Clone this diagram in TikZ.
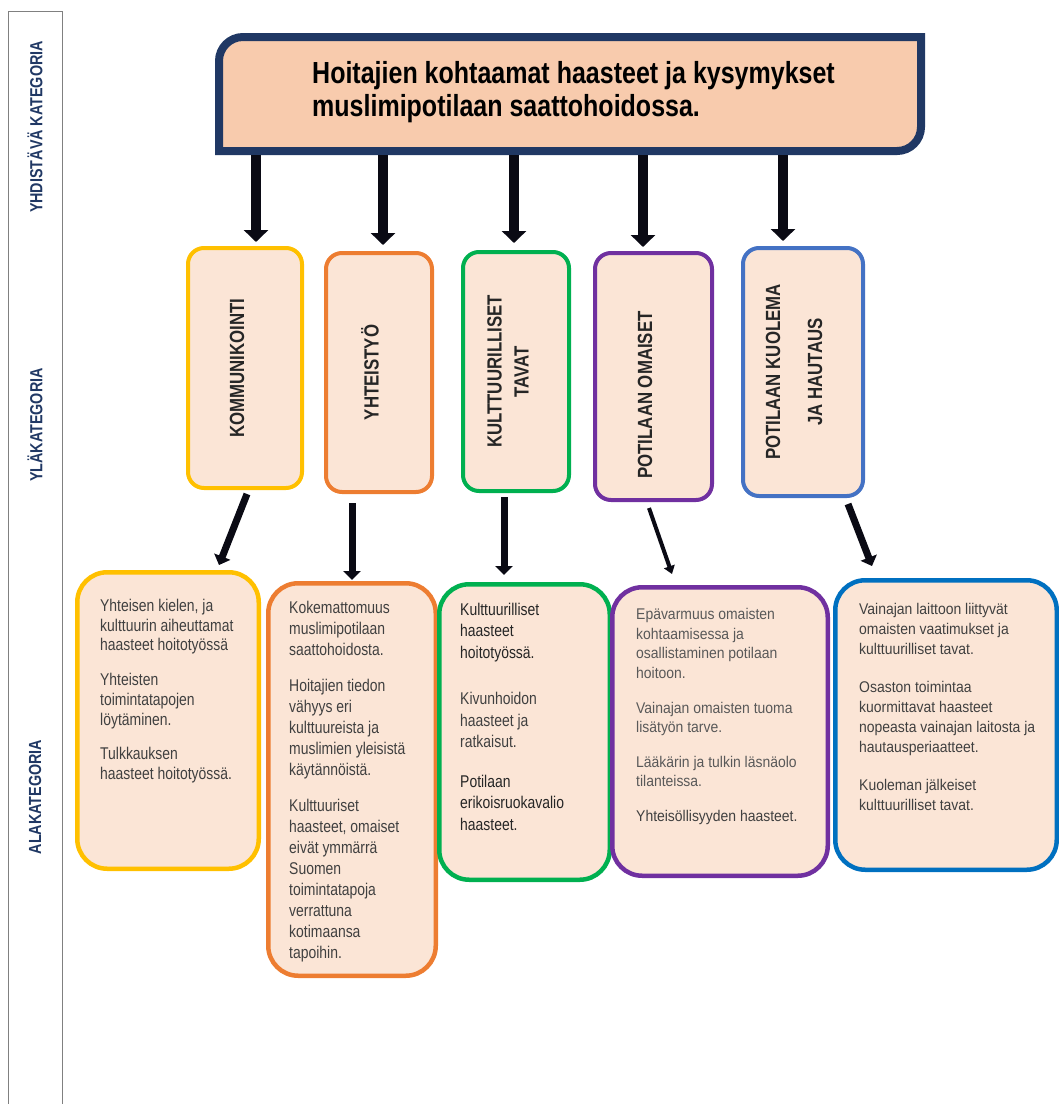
\documentclass[tikz,border=0pt]{standalone}
\usepackage{fontspec}
\setmainfont{Liberation Sans}
\newfontfamily\narrowfont[FakeStretch=0.82]{Liberation Sans}
\newfontfamily\plainfont[FakeStretch=0.9]{Liberation Sans}
\usetikzlibrary{%
    arrows.meta,
    calc,
    positioning
}
\definecolor{navy}{HTML}{203864}
\definecolor{peach}{HTML}{F8CBAD}
\definecolor{boxfill}{HTML}{FBE5D6}
\definecolor{kyellow}{HTML}{FFC000}
\definecolor{korange}{HTML}{ED7D31}
\definecolor{kgreen}{HTML}{00B050}
\definecolor{kpurple}{HTML}{7030A0}
\definecolor{kblue}{HTML}{4472C4}
\definecolor{kdeep}{HTML}{0070C0}
\definecolor{textdark}{HTML}{262626}
\definecolor{textmid}{HTML}{404040}
\definecolor{textgray}{HTML}{595959}
\definecolor{arrowblack}{HTML}{0A0A14}
\tikzset{bigarrow/.style = {line width=10pt, draw=arrowblack, -{Triangle[width=24pt,length=12pt]}}}
\tikzset{subarrow/.style = {line width=7pt, draw=arrowblack, -{Triangle[width=17pt,length=9pt]}}}

\begin{document}
\begin{tikzpicture}[x=1pt, y=-1pt,
    catbox/.style = {draw, line width=4pt, fill=boxfill, rounded corners=16pt, inner sep=0pt},
    subbox/.style = {draw, line width=4.5pt, fill=boxfill, rounded corners=30pt, inner sep=0pt},
    cattext/.style = {rotate=90, align=center, inner sep=0pt, text=textdark,
        font=\narrowfont\bfseries\fontsize{20.5}{27}\selectfont},
    subtext/.style = {anchor=north west, align=left, inner sep=0pt, text=textmid,
        font=\narrowfont\fontsize{17}{21}\selectfont},
    plaintext/.style = {anchor=north west, align=left, inner sep=0pt, text=textgray,
        font=\plainfont\fontsize{15.5}{19.4}\selectfont},
    sidelabel/.style = {rotate=90, inner sep=0pt, text=navy,
        font=\narrowfont\bfseries\fontsize{17.5}{20}\selectfont}]
    \useasboundingbox (0,0) rectangle (1059,1104);

    \draw[gray, line width=1pt] (8,11) rectangle (62,1120);
    \node[sidelabel] (toplabel) at (35,127) {YHDISTÄVÄ KATEGORIA};
    \node[sidelabel] (midlabel) at (35,425) {YLÄKATEGORIA};
    \node[sidelabel] (lowlabel) at (35,797) {ALAKATEGORIA};

    \coordinate (framenw) at (219,37);
    \coordinate (framese) at (921,151);
    \draw[line width=8pt, draw=navy, fill=peach]
        (framenw |- framese) [rounded corners=24pt] -- (framenw)
        [sharp corners] -- (framese |- framenw)
        [rounded corners=24pt] -- (framese)
        [sharp corners] -- cycle;
    \node[anchor=north west, align=left, inner sep=0pt, text=black,
        font=\narrowfont\bfseries\fontsize{30.5}{33}\selectfont]
        (title) at ($(framenw)+(93,24)$)
        {Hoitajien kohtaamat haasteet ja kysymykset\\muslimipotilaan saattohoidossa.};

    \node[catbox, draw=kyellow, minimum width=114pt, minimum height=240pt] (kom) at (245,368) {};
    \node[catbox, draw=korange, minimum width=106pt, minimum height=239pt] (yht) at (379,372.5) {};
    \node[catbox, draw=kgreen, minimum width=106pt, minimum height=239pt] (kul) at (516,371.5) {};
    \node[catbox, draw=kpurple, minimum width=117pt, minimum height=247pt] (pom) at (653.5,376.5) {};
    \node[catbox, draw=kblue, minimum width=120pt, minimum height=248pt] (pkh) at (803,372) {};

    \node[cattext] (komtext) at ($(kom)+(-8,0)$) {KOMMUNIKOINTI};
    \node[cattext] (yhttext) at ($(yht)+(-9,0)$) {YHTEISTYÖ};
    \node[cattext] (kultext) at ($(kul)+(-8,0)$) {KULTTUURILLISET\\TAVAT};
    \node[cattext] (pomtext) at ($(pom)+(-8.5,18.5)$) {POTILAAN OMAISET};
    \node[cattext, font=\narrowfont\bfseries\fontsize{20.5}{42}\selectfont]
        (pkhtext) at ($(pkh)+(-9,0)$) {POTILAAN KUOLEMA\\JA HAUTAUS};

    \node[subbox, draw=kyellow, minimum width=181.5pt, minimum height=296.5pt] (komsub) at (168,720.5) {};
    \node[subbox, draw=korange, minimum width=167.5pt, minimum height=392.5pt] (yhtsub) at (352,779.5) {};
    \node[subbox, draw=kgreen, minimum width=170.5pt, minimum height=295.5pt] (kulsub) at (524.5,732) {};
    \node[subbox, draw=kpurple, minimum width=215.5pt, minimum height=288.5pt] (pomsub) at (720,731.5) {};
    \node[subbox, draw=kdeep, minimum width=221.5pt, minimum height=289.5pt] (pkhsub) at (946,725) {};

    \node[subtext, font=\narrowfont\fontsize{17}{19.7}\selectfont]
        (komlist) at ($(komsub.north west)+(25,29)$)
        {Yhteisen kielen, ja\\kulttuurin aiheuttamat\\haasteet hoitotyössä\\[15pt]
         Yhteisten\\toimintatapojen\\löytäminen.\\[15pt]
         Tulkkauksen\\haasteet hoitotyössä.};
    \node[subtext] (yhtlist) at ($(yhtsub.north west)+(23,19.5)$)
        {Kokemattomuus\\muslimipotilaan\\saattohoidosta.\\[15pt]
         Hoitajien tiedon\\vähyys eri\\kulttuureista ja\\muslimien yleisistä\\käytännöistä.\\[15pt]
         Kulttuuriset\\haasteet, omaiset\\eivät ymmärrä\\Suomen\\toimintatapoja\\verrattuna\\kotimaansa\\tapoihin.};
    \node[subtext, text=textdark, font=\narrowfont\fontsize{17}{21.5}\selectfont]
        (kullist) at ($(kulsub.north west)+(23,20.5)$)
        {Kulttuurilliset\\haasteet\\hoitotyössä.\\[25pt]
         \textcolor{textmid}{Kivunhoidon}\\\textcolor{textmid}{haasteet ja}\\\textcolor{textmid}{ratkaisut.}\\[18pt]
         Potilaan\\erikoisruokavalio\\haasteet.};
    \node[plaintext] (pomlist) at ($(pomsub.north west)+(26,23.5)$)
        {Epävarmuus omaisten\\kohtaamisessa ja\\osallistaminen potilaan\\hoitoon.\\[15.5pt]
         Vainajan omaisten tuoma\\lisätyön tarve.\\[15.5pt]
         Lääkärin ja tulkin läsnäolo\\tilanteissa.\\[15.5pt]
         \textcolor{textmid}{Yhteisöllisyyden haasteet.}};
    \node[plaintext, text=textmid, font=\plainfont\fontsize{15.5}{20}\selectfont]
        (pkhlist) at ($(pkhsub.north west)+(26,25.5)$)
        {Vainajan laittoon liittyvät\\omaisten vaatimukset ja\\kulttuurilliset tavat.\\[18pt]
         Osaston toimintaa\\kuormittavat haasteet\\nopeasta vainajan laitosta ja\\hautausperiaatteet.\\[18pt]
         Kuoleman jälkeiset\\kulttuurilliset tavat.};

    \draw[bigarrow] ($(kom.north |- framese)+(11,4)$) to ($(kom.north)+(11,-4)$);
    \draw[bigarrow] ($(yht.north |- framese)+(4,4)$) to ($(yht.north)+(4,-6)$);
    \draw[bigarrow] ($(kul.north |- framese)+(-2,4)$) to ($(kul.north)+(-2,-7)$);
    \draw[bigarrow] ($(pom.north |- framese)+(-10.5,4)$) to ($(pom.north)+(-10.5,-4)$);
    \draw[bigarrow] ($(pkh.north |- framese)+(-20,4)$) to ($(pkh.north)+(-20,-5)$);

    \draw[subarrow] ($(kom.south)+(2,4)$) to ($(komsub.north)+(51,-5)$);
    \draw[subarrow] ($(yht.south)+(-27,9)$) to ($(yhtsub.north)+(0,-1)$);
    \draw[subarrow] ($(kul.south)+(-12,4)$) to ($(kulsub.north)+(-20.5,-7)$);
    \draw[subarrow, line width=4pt, -{Triangle[width=11pt,length=8pt]}]
        ($(pom.south)+(-4.5,6)$) to ($(pomsub.north)+(-48,-11)$);
    \draw[subarrow] ($(pkh.south)+(45,6)$) to ($(pkhsub.north)+(-74,-12)$);
\end{tikzpicture}
\end{document}
